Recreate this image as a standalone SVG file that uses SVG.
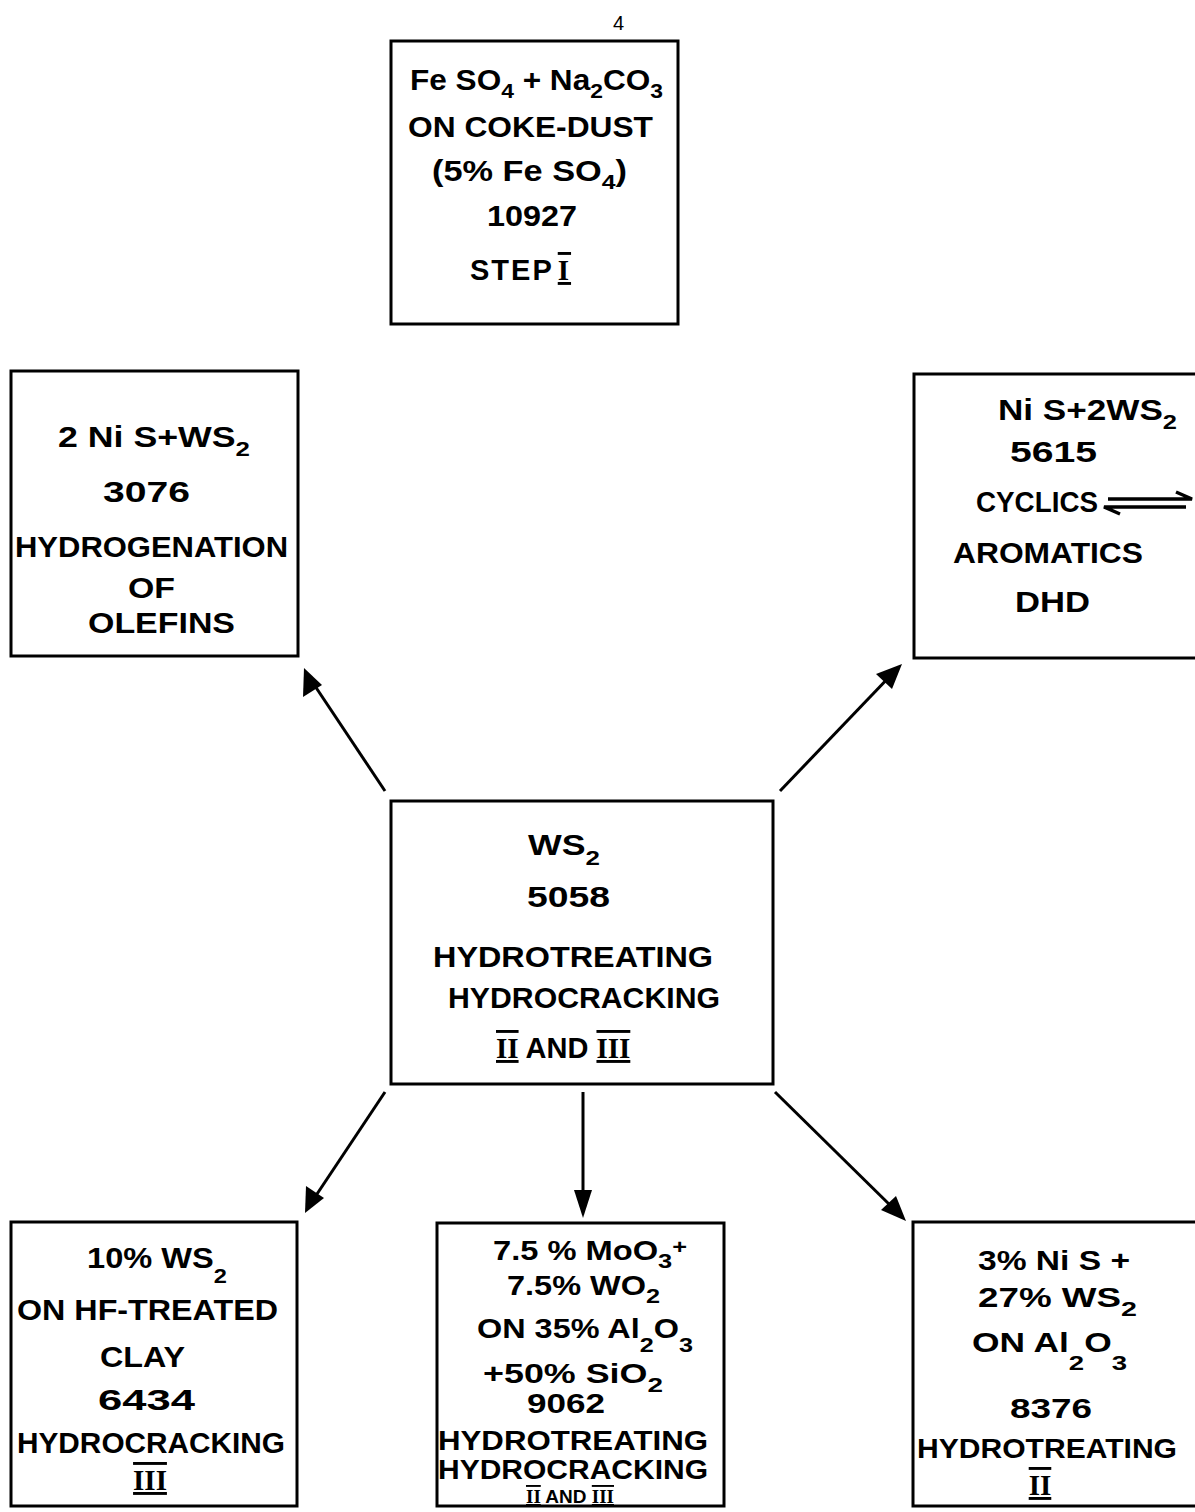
<svg xmlns="http://www.w3.org/2000/svg" width="1195" height="1512" viewBox="0 0 1195 1512">
<defs>
<style>
.box{fill:#fff;stroke:#000;stroke-width:3}
.t{font-family:"Liberation Sans",Arial,sans-serif;font-weight:bold;font-size:29px;fill:#000}
.m{font-size:27px}
.r{font-family:"Liberation Serif","Times New Roman",serif;font-weight:bold;text-decoration:underline overline}
.s{font-size:21px}
.pg{font-family:"Liberation Sans",Arial,sans-serif;font-size:20px;fill:#000}
.c{stroke:#000;stroke-width:3;fill:none}
</style>
</defs>
<rect width="1195" height="1512" fill="#fff"/>
<text class="pg" x="613" y="30">4</text>

<g id="connectors">
<line class="c" x1="385" y1="791" x2="311" y2="680"/>
<path d="M304,668 L303,697 L322,685 z" fill="#000"/>
<line class="c" x1="780" y1="791" x2="893" y2="673"/>
<path d="M902,664 L876,674 L892,689 z" fill="#000"/>
<line class="c" x1="385" y1="1092" x2="313" y2="1200"/>
<path d="M305,1213 L306,1186 L324,1198 z" fill="#000"/>
<line class="c" x1="583" y1="1092" x2="583" y2="1200"/>
<path d="M583,1218 L574,1190 L592,1190 z" fill="#000"/>
<line class="c" x1="775" y1="1092" x2="893" y2="1208"/>
<path d="M906,1221 L881,1210 L896,1196 z" fill="#000"/>
</g>

<g id="step1">
<rect class="box" x="391" y="41" width="287" height="283"/>
<text class="t" x="410" y="90" textLength="253" lengthAdjust="spacingAndGlyphs">Fe SO<tspan class="s" dy="8">4</tspan><tspan dy="-8"> + Na</tspan><tspan class="s" dy="8">2</tspan><tspan dy="-8">CO</tspan><tspan class="s" dy="8">3</tspan></text>
<text class="t" x="408" y="137" textLength="245" lengthAdjust="spacingAndGlyphs">ON COKE-DUST</text>
<text class="t" x="432" y="181" textLength="195" lengthAdjust="spacingAndGlyphs">(5% Fe SO<tspan class="s" dy="8">4</tspan><tspan dy="-8">)</tspan></text>
<text class="t" x="487" y="226" textLength="90" lengthAdjust="spacingAndGlyphs">10927</text>
<text class="t" x="470" y="280" style="letter-spacing:2px">STEP<tspan class="r" dx="4">I</tspan></text>
</g>

<g id="n3076">
<rect class="box" x="11" y="371" width="287" height="285"/>
<text class="t" x="58" y="447" textLength="192" lengthAdjust="spacingAndGlyphs">2 Ni S+WS<tspan class="s" dy="9">2</tspan></text>
<text class="t" x="103" y="502" textLength="87" lengthAdjust="spacingAndGlyphs">3076</text>
<text class="t" x="15" y="557" textLength="273" lengthAdjust="spacingAndGlyphs">HYDROGENATION</text>
<text class="t" x="128" y="598" textLength="47" lengthAdjust="spacingAndGlyphs">OF</text>
<text class="t" x="88" y="633" textLength="147" lengthAdjust="spacingAndGlyphs">OLEFINS</text>
</g>

<g id="n5615">
<rect class="box" x="914" y="374" width="290" height="284"/>
<text class="t" x="998" y="420" textLength="179" lengthAdjust="spacingAndGlyphs">Ni S+2WS<tspan class="s" dy="9">2</tspan></text>
<text class="t" x="1010" y="462" textLength="87" lengthAdjust="spacingAndGlyphs">5615</text>
<text class="t" x="976" y="512" textLength="122" lengthAdjust="spacingAndGlyphs">CYCLICS</text>
<path d="M1108,499 L1186,499 M1176,492 L1192,499 L1176,499 M1108,507 L1186,507 M1120,514 L1104,507 L1120,507" stroke="#000" stroke-width="3.5" fill="none"/>
<text class="t" x="953" y="563" textLength="190" lengthAdjust="spacingAndGlyphs">AROMATICS</text>
<text class="t" x="1015" y="612" textLength="75" lengthAdjust="spacingAndGlyphs">DHD</text>
</g>

<g id="ws2">
<rect class="box" x="391" y="801" width="382" height="283"/>
<text class="t" x="528" y="855" textLength="72" lengthAdjust="spacingAndGlyphs">WS<tspan class="s" dy="10">2</tspan></text>
<text class="t" x="527" y="907" textLength="83" lengthAdjust="spacingAndGlyphs">5058</text>
<text class="t" x="433" y="967" textLength="280" lengthAdjust="spacingAndGlyphs">HYDROTREATING</text>
<text class="t" x="448" y="1008" textLength="272" lengthAdjust="spacingAndGlyphs">HYDROCRACKING</text>
<text class="t" x="496" y="1058"><tspan class="r">II</tspan> AND <tspan class="r">III</tspan></text>
</g>

<g id="n6434">
<rect class="box" x="11" y="1222" width="286" height="284"/>
<text class="t" x="87" y="1268" textLength="140" lengthAdjust="spacingAndGlyphs">10% WS<tspan class="s" dy="15">2</tspan></text>
<text class="t" x="17" y="1320" textLength="261" lengthAdjust="spacingAndGlyphs">ON HF-TREATED</text>
<text class="t" x="100" y="1367" textLength="85" lengthAdjust="spacingAndGlyphs">CLAY</text>
<text class="t" x="98" y="1410" textLength="97" lengthAdjust="spacingAndGlyphs">6434</text>
<text class="t" x="17" y="1453" textLength="268" lengthAdjust="spacingAndGlyphs">HYDROCRACKING</text>
<text class="t" x="150" y="1490" text-anchor="middle"><tspan class="r">III</tspan></text>
</g>

<g id="n9062">
<rect class="box" x="437" y="1223" width="287" height="283"/>
<text class="t m" x="493" y="1260" textLength="194" lengthAdjust="spacingAndGlyphs">7.5 % MoO<tspan class="s" dy="8">3</tspan><tspan class="s" dy="-14">+</tspan></text>
<text class="t m" x="507" y="1295" textLength="153" lengthAdjust="spacingAndGlyphs">7.5% WO<tspan class="s" dy="8">2</tspan></text>
<text class="t m" x="477" y="1338" textLength="216" lengthAdjust="spacingAndGlyphs">ON 35% Al<tspan class="s" dy="14">2</tspan><tspan dy="-14">O</tspan><tspan class="s" dy="14">3</tspan></text>
<text class="t m" x="483" y="1383" textLength="180" lengthAdjust="spacingAndGlyphs">+50% SiO<tspan class="s" dy="9">2</tspan></text>
<text class="t m" x="527" y="1413" textLength="78" lengthAdjust="spacingAndGlyphs">9062</text>
<text class="t m" x="438" y="1450" textLength="270" lengthAdjust="spacingAndGlyphs">HYDROTREATING</text>
<text class="t m" x="438" y="1479" textLength="270" lengthAdjust="spacingAndGlyphs">HYDROCRACKING</text>
<text class="t" x="570" y="1503" text-anchor="middle" style="font-size:19px"><tspan class="r">II</tspan> AND <tspan class="r">III</tspan></text>
</g>

<g id="n8376">
<rect class="box" x="913" y="1222" width="290" height="284"/>
<text class="t m" x="978" y="1270" textLength="152" lengthAdjust="spacingAndGlyphs">3% Ni S +</text>
<text class="t m" x="978" y="1307" textLength="159" lengthAdjust="spacingAndGlyphs">27% WS<tspan class="s" dy="9">2</tspan></text>
<text class="t m" x="972" y="1352" textLength="155" lengthAdjust="spacingAndGlyphs">ON Al<tspan class="s" dy="18">2</tspan><tspan dy="-18">O</tspan><tspan class="s" dy="18">3</tspan></text>
<text class="t m" x="1010" y="1418" textLength="82" lengthAdjust="spacingAndGlyphs">8376</text>
<text class="t m" x="917" y="1458" textLength="260" lengthAdjust="spacingAndGlyphs">HYDROTREATING</text>
<text class="t" x="1040" y="1495" text-anchor="middle"><tspan class="r">II</tspan></text>
</g>
</svg>
